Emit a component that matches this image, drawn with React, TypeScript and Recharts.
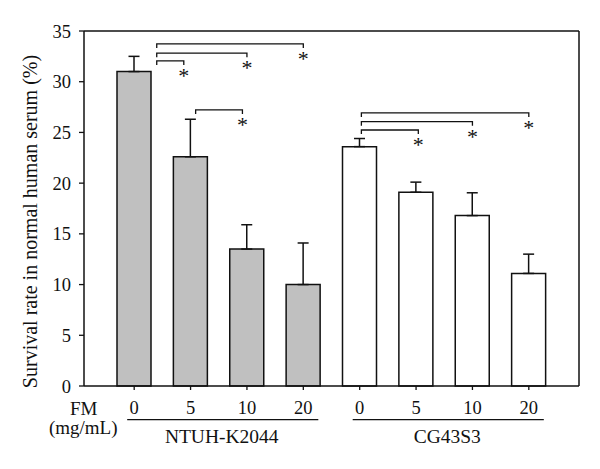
import React from 'react';
import { BarChart, Bar, XAxis, YAxis, ErrorBar, ReferenceLine, Cell, Label } from 'recharts';

const strains = ['NTUH-K2044', 'CG43S3'];
const doses = ['0', '5', '10', '20'];
const ntuhMeans = [31.0, 22.6, 13.5, 10.0];
const ntuhErrors = [1.5, 3.7, 2.4, 4.1];
const cgMeans = [23.6, 19.1, 16.8, 11.1];
const cgErrors = [0.8, 1.0, 2.25, 1.9];
const yTicks = [0, 5, 10, 15, 20, 25, 30, 35];

// significance brackets, in bar positions (0..7) and % survival
const bracketFrom = [0.4, 0.4, 0.4, 1.09, 4.03, 4.03, 4.03];
const bracketTo = [0.88, 2, 3, 1.92, 5.04, 6, 7];
const bracketLevel = [32.05, 32.81, 33.73, 27.22, 25.24, 26.06, 26.92];

const FONT = 'Liberation Serif, Times New Roman, serif';
const INK = '#111';
const GRAY = '#c0c0c0';

// plot geometry, used to line up the hidden position axis with the bars
const PLOT_W = 495;
const PAD = 22;
const BAND = (PLOT_W - 2 * PAD) / 8;
const EDGE = PAD / BAND;

const rows = strains.flatMap((strain, s) =>
  doses.map((dose, d) => ({
    key: `${strain}-${dose}`,
    strain,
    dose,
    pos: s * 4 + d,
    mean: s === 0 ? ntuhMeans[d] : cgMeans[d],
    err: [0, s === 0 ? ntuhErrors[d] : cgErrors[d]],
  }))
);

const DoseTick = (props: any) => {
  const { x, y, index } = props;
  const groupStart = index % 4 === 0;
  return (
    <g style={{ fontFamily: FONT }} fill={INK}>
      <text x={x} y={y + 23.6} textAnchor="middle" fontSize={18.5}>
        {doses[index % 4]}
      </text>
      {groupStart && (
        <>
          <line x1={x - 7} x2={x + 3 * BAND + 15} y1={y + 29.6} y2={y + 29.6} stroke={INK} strokeWidth={1.3} />
          <text x={x + 1.5 * BAND + 3} y={y + 53} textAnchor="middle" fontSize={19.5}>
            {strains[index / 4]}
          </text>
        </>
      )}
      {index === 0 && (
        <>
          <text x={x - 50.5} y={y + 24.6} textAnchor="middle" fontSize={19}>FM</text>
          <text x={x - 51} y={y + 44.3} textAnchor="middle" fontSize={19}>(mg/mL)</text>
        </>
      )}
    </g>
  );
};

const bracketShape = (props: any) => {
  const { x1, y1, x2, y2 } = props;
  return (
    <g>
      <path d={`M${x1},${y1 + 4}V${y1}H${x2}V${y2 + 4}`} fill="none" stroke={INK} strokeWidth={1.3} />
      <text x={x2} y={y2 + 22} textAnchor="middle" fontSize={22} style={{ fontFamily: FONT }} fill={INK}>
        *
      </text>
    </g>
  );
};

const AxisTitle = (props: any) => {
  const vb = props.viewBox;
  const cx = vb.x + 30;
  const cy = vb.y + vb.height / 2 + 13;
  return (
    <text
      x={cx}
      y={cy}
      transform={`rotate(-90 ${cx} ${cy})`}
      textAnchor="middle"
      dominantBaseline="central"
      fontSize={20}
      style={{ fontFamily: FONT }}
      fill={INK}
    >
      Survival rate in normal human serum (%)
    </text>
  );
};

export default function App() {
  return (
    <div style={{ position: 'absolute', left: 0, top: 0, width: 600, height: 469, background: '#fff', fontFamily: FONT }}>
      <BarChart width={600} height={469} data={rows} margin={{ top: 31, right: 21, left: 0, bottom: 0 }}>
        <XAxis
          xAxisId="cat"
          dataKey="key"
          height={83}
          padding={{ left: PAD, right: PAD }}
          interval={0}
          tickSize={4}
          tickMargin={0}
          tickLine={{ stroke: INK, strokeWidth: 1.3 }}
          axisLine={{ stroke: INK, strokeWidth: 1.5 }}
          tick={DoseTick}
        />
        <XAxis
          xAxisId="pos"
          dataKey="pos"
          type="number"
          domain={[-0.5 - EDGE, 7.5 + EDGE]}
          allowDataOverflow
          hide
        />
        <YAxis
          yAxisId="v"
          domain={[0, 35]}
          ticks={yTicks}
          interval={0}
          width={84}
          tickSize={5}
          tickMargin={8}
          tickLine={{ stroke: INK, strokeWidth: 1.3 }}
          axisLine={{ stroke: INK, strokeWidth: 1.5 }}
          tick={{ fill: INK, fontSize: 18.5, style: { fontFamily: FONT } }}
        >
          <Label content={AxisTitle} />
        </YAxis>
        <Bar
          xAxisId="cat"
          yAxisId="v"
          dataKey="mean"
          barSize={34}
          stroke={INK}
          strokeWidth={1.5}
          isAnimationActive={false}
        >
          {rows.map((r) => (
            <Cell key={r.key} fill={r.strain === strains[0] ? GRAY : '#fff'} />
          ))}
          <ErrorBar dataKey="err" width={5.5} stroke={INK} strokeWidth={1.5} isAnimationActive={false} />
        </Bar>
        <ReferenceLine xAxisId="cat" yAxisId="v" y={35} stroke={INK} strokeWidth={1.5} />
        <ReferenceLine xAxisId="pos" yAxisId="v" x={7.5 + EDGE} stroke={INK} strokeWidth={1.5} />
        {bracketLevel.map((level, i) => (
          <ReferenceLine
            key={i}
            xAxisId="pos"
            yAxisId="v"
            segment={[
              { x: bracketFrom[i], y: level },
              { x: bracketTo[i], y: level },
            ]}
            shape={bracketShape}
          />
        ))}
      </BarChart>
    </div>
  );
}
